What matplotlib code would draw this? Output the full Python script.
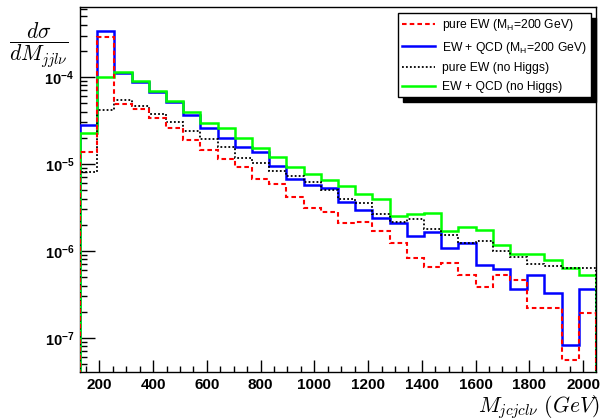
import numpy as np
import matplotlib
matplotlib.use("Agg")
import matplotlib.pyplot as plt
from matplotlib.ticker import FixedLocator, FixedFormatter, LogLocator, NullFormatter
from matplotlib.transforms import ScaledTranslation

# Histogram binning: 30 bins of 64 GeV from 128 to 2048 GeV
bin_low = 128
bin_width = 64
n_bins = 30
edges = bin_low + bin_width * np.arange(n_bins + 1)

# dsigma/dM per bin
pure_ew_h200 = [1.37e-5, 2.88e-4, 4.94e-5, 4.33e-5, 3.38e-5, 2.59e-5, 1.91e-5, 1.44e-5,
                1.14e-5, 9.24e-6, 6.79e-6, 5.95e-6, 4.18e-6, 3.12e-6, 2.81e-6, 2.07e-6,
                2.15e-6, 1.70e-6, 1.23e-6, 8.40e-7, 6.62e-7, 7.28e-7, 5.26e-7, 3.86e-7,
                5.26e-7, 4.69e-7, 2.21e-7, 2.21e-7, 5.55e-8, 1.94e-7]
ew_qcd_h200 = [2.79e-5, 3.41e-4, 1.11e-4, 8.69e-5, 6.67e-5, 5.12e-5, 3.63e-5, 2.59e-5,
               1.99e-5, 1.56e-5, 1.38e-5, 9.48e-6, 6.79e-6, 5.69e-6, 5.35e-6, 3.66e-6,
               2.94e-6, 2.42e-6, 2.07e-6, 1.50e-6, 1.65e-6, 1.07e-6, 1.22e-6, 6.85e-7,
               6.17e-7, 3.70e-7, 5.36e-7, 3.29e-7, 8.24e-8, 3.70e-7]
pure_ew_nohiggs = [8.09e-6, 4.22e-5, 5.40e-5, 4.60e-5, 3.79e-5, 3.04e-5, 2.39e-5, 1.96e-5,
                   1.57e-5, 1.16e-5, 1.03e-5, 8.24e-6, 7.22e-6, 6.21e-6, 5.08e-6, 4.00e-6,
                   3.56e-6, 2.64e-6, 2.15e-6, 2.34e-6, 1.81e-6, 1.51e-6, 1.25e-6, 1.30e-6,
                   1.00e-6, 8.53e-7, 7.16e-7, 6.67e-7, 6.44e-7, 6.44e-7]
ew_qcd_nohiggs = [2.27e-5, 1.00e-4, 1.14e-4, 8.99e-5, 6.90e-5, 5.30e-5, 3.93e-5, 2.96e-5,
                  2.62e-5, 1.99e-5, 1.53e-5, 1.20e-5, 9.24e-6, 7.62e-6, 6.50e-6, 5.65e-6,
                  4.49e-6, 4.00e-6, 2.51e-6, 2.66e-6, 2.73e-6, 1.70e-6, 1.89e-6, 1.73e-6,
                  1.16e-6, 9.33e-7, 9.33e-7, 7.96e-7, 6.44e-7, 5.36e-7]

labels = ["pure EW (M$_{\\mathrm{H}}$=200 GeV)",
          "EW + QCD (M$_{\\mathrm{H}}$=200 GeV)",
          "pure EW (no Higgs)",
          "EW + QCD (no Higgs)"]

x_major = [200, 400, 600, 800, 1000, 1200, 1400, 1600, 1800, 2000]
y_major = [1e-7, 1e-6, 1e-5, 1e-4]
y_major_labels = ["$\\mathbf{10^{-7}}$", "$\\mathbf{10^{-6}}$",
                  "$\\mathbf{10^{-5}}$", "$\\mathbf{10^{-4}}$"]

plt.rcParams["font.family"] = ["Liberation Sans", "DejaVu Sans"]
plt.rcParams["mathtext.fontset"] = "custom"
plt.rcParams["mathtext.rm"] = "Liberation Sans"
plt.rcParams["mathtext.bf"] = "Liberation Sans:bold"
plt.rcParams["mathtext.it"] = "Liberation Sans:italic"

W, H = 602, 420
fig = plt.figure(figsize=(W / 100, H / 100), dpi=100)
ax = fig.add_axes([80 / W, 48 / H, 516 / W, 365 / H])

ax.stairs(ew_qcd_h200, edges, color="#0000ff", lw=1.8, label=labels[1], zorder=3)
ax.stairs(ew_qcd_nohiggs, edges, color="#00ff00", lw=1.8, label=labels[3], zorder=3.5)
ax.stairs(pure_ew_nohiggs, edges, color="black", lw=1.3,
          linestyle=(0, (1, 1.2)), label=labels[2], zorder=4)
ax.stairs(pure_ew_h200, edges, color="#ff0000", lw=1.5,
          linestyle=(0, (2.2, 1.5)), label=labels[0], zorder=5)

ax.set_xlim(edges[0], edges[-1])
ax.set_yscale("log")
ax.set_ylim(4.06e-8, 6.38e-4)

ax.xaxis.set_major_locator(FixedLocator(x_major))
ax.xaxis.set_minor_locator(FixedLocator(np.arange(150, 2001, 50)))
ax.set_xticklabels([str(v) for v in x_major], fontsize=11, fontweight="bold")

ax.yaxis.set_major_locator(FixedLocator(y_major))
ax.yaxis.set_major_formatter(FixedFormatter(y_major_labels))
ax.yaxis.set_minor_locator(LogLocator(base=10, subs=np.arange(2, 10)))
ax.yaxis.set_minor_formatter(NullFormatter())
shift_down = ScaledTranslation(0, -3 / 100, fig.dpi_scale_trans)
for t in ax.get_yticklabels():
    t.set_fontsize(10.5)
    t.set_transform(t.get_transform() + shift_down)

ax.tick_params(axis="x", which="major", direction="in", length=8.4, width=1, pad=4)
ax.tick_params(axis="x", which="minor", direction="in", length=4.2, width=1)
ax.tick_params(axis="y", which="major", direction="in", length=10.8, width=1, pad=4)
ax.tick_params(axis="y", which="minor", direction="in", length=5.0, width=1)
for s in ax.spines.values():
    s.set_linewidth(1.0)

# axis titles
fig.text(39 / W, 1 - 45 / H, r"$\dfrac{d\sigma}{dM_{jjl\nu}}$", fontsize=15.5,
         math_fontfamily="cm", ha="center", va="center")
fig.text(600 / W, 1 - 412 / H, r"$M_{jcjcl\nu}\ (GeV)$", fontsize=15.5,
         math_fontfamily="cm", ha="right", va="baseline")

handles, hl = ax.get_legend_handles_labels()
order = [hl.index(l) for l in labels]
leg = ax.legend([handles[i] for i in order], [hl[i] for i in order],
                loc="upper right", bbox_to_anchor=(591 / W, 1 - 12.7 / H),
                bbox_transform=fig.transFigure, borderaxespad=0, fontsize=8.7,
                fancybox=False, framealpha=1, edgecolor="black",
                handlelength=2.7, handletextpad=0.6, borderpad=0.35,
                labelspacing=0.55,
                shadow={"ox": 3.5, "oy": -3.5, "color": "black", "alpha": 1})
leg.get_frame().set_linewidth(1.0)

fig.savefig("out.png", dpi=100)
